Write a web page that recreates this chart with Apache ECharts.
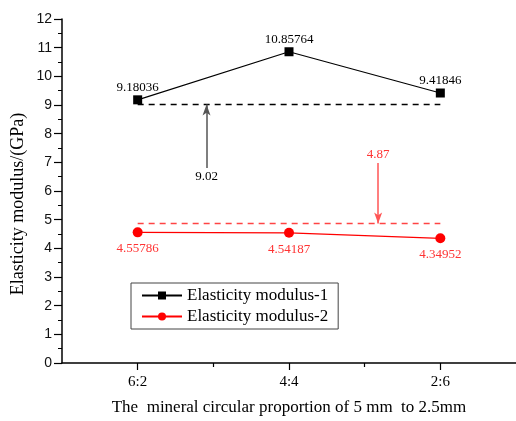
<!DOCTYPE html>
<html>
<head>
<meta charset="utf-8">
<script src="https://cdn.jsdelivr.net/npm/echarts@6/dist/echarts.min.js"></script>
<style>
  html, body { margin: 0; padding: 0; background: #fff; }
  #chart { width: 516px; height: 421px; }
</style>
</head>
<body>
<div id="chart"></div>
<script>
// Mix ratios of 5 mm to 2.5 mm mineral particles, placed at x = 1, 2, 3
const categories = ['6:2', '4:4', '2:6'];
const categoryPositions = [1, 2, 3];

// Elasticity modulus (GPa)
const modulus1 = [9.18036, 10.85764, 9.41846];
const modulus2 = [4.55786, 4.54187, 4.34952];

// Reference levels drawn as dashed lines with pointer arrows
const refLevel1 = 9.02;
const refLevel2 = 4.87;

const yTicks = [0, 1, 2, 3, 4, 5, 6, 7, 8, 9, 10, 11, 12];

const SERIF = '"Liberation Serif", "Times New Roman", serif';
const SANS = '"Liberation Sans", Arial, sans-serif';

const toPoints = vals => vals.map((v, i) => [categoryPositions[i], v]);
const levelLine = v => [[categoryPositions[0], v], [categoryPositions[categoryPositions.length - 1], v]];

const chart = echarts.init(document.getElementById('chart'), null, { renderer: 'canvas' });

chart.setOption({
  animation: false,
  backgroundColor: '#fff',
  grid: { left: 62, top: 19, bottom: 56, right: -8, containLabel: false },
  legend: {
    data: ['Elasticity modulus-1', 'Elasticity modulus-2'],
    orient: 'vertical',
    left: 131,
    top: 283,
    padding: [4, 10, 4, 10],
    itemGap: 4,
    itemWidth: 40,
    itemHeight: 10,
    borderColor: '#444',
    borderWidth: 1,
    borderRadius: 0,
    textStyle: { fontFamily: SERIF, fontSize: 17, color: '#000' }
  },
  xAxis: [
    {
      type: 'value',
      min: 0.5,
      max: 3.5,
      interval: 0.5,
      name: 'The  mineral circular proportion of 5 mm  to 2.5mm',
      nameLocation: 'middle',
      nameGap: 36,
      nameTextStyle: { fontFamily: SERIF, fontSize: 17, color: '#000' },
      axisLine: { show: true, lineStyle: { color: '#000', width: 1.5 } },
      axisTick: { show: true, customValues: categoryPositions, length: 7, lineStyle: { color: '#000', width: 1.2 } },
      axisLabel: {
        customValues: categoryPositions,
        margin: 12,
        fontFamily: SERIF, fontSize: 15, color: '#000',
        formatter: v => {
          const i = categoryPositions.indexOf(v);
          return i >= 0 ? categories[i] : '';
        }
      },
      splitLine: { show: false }
    },
    {
      // minor ticks midway between the ratios
      type: 'value',
      position: 'bottom',
      min: 0.5,
      max: 3.5,
      interval: 0.5,
      axisLine: { show: false },
      axisTick: { show: true, customValues: [1.5, 2.5], length: 4, lineStyle: { color: '#000', width: 1.2 } },
      axisLabel: { show: false },
      splitLine: { show: false }
    }
  ],
  yAxis: {
    type: 'value',
    min: yTicks[0],
    max: yTicks[yTicks.length - 1],
    interval: 1,
    name: 'Elasticity modulus/(GPa)',
    nameLocation: 'middle',
    nameGap: 35,
    nameMoveOverlap: false,
    nameRotate: 90,
    nameTextStyle: { fontFamily: SERIF, fontSize: 18, color: '#000', padding: [0, 26, 0, 0] },
    axisLine: { show: true, lineStyle: { color: '#000', width: 1.5 } },
    axisTick: { show: true, length: 8, lineStyle: { color: '#000', width: 1.2 } },
    minorTick: { show: true, splitNumber: 2, length: 4, lineStyle: { color: '#000', width: 1 } },
    axisLabel: { margin: 10, fontFamily: SANS, fontSize: 14, color: '#111' },
    splitLine: { show: false }
  },
  series: [
    {
      name: 'Elasticity modulus-1',
      type: 'line',
      data: toPoints(modulus1),
      symbol: 'rect',
      symbolSize: 9,
      lineStyle: { color: '#000', width: 1.2 },
      itemStyle: { color: '#000' },
      label: {
        show: true, position: 'top', distance: 1,
        fontFamily: SERIF, fontSize: 13, color: '#000',
        formatter: p => String(p.value[1])
      },
      z: 5
    },
    {
      name: 'Elasticity modulus-2',
      type: 'line',
      data: toPoints(modulus2),
      symbol: 'circle',
      symbolSize: 10,
      lineStyle: { color: '#ff0000', width: 1.2 },
      itemStyle: { color: '#ff0000' },
      label: {
        show: true, position: 'bottom', distance: 5,
        fontFamily: SERIF, fontSize: 13, color: '#ff3333',
        formatter: p => String(p.value[1])
      },
      z: 5
    },
    {
      name: 'level-1',
      type: 'line',
      data: levelLine(refLevel1),
      symbol: 'none',
      silent: true,
      lineStyle: { color: '#000', width: 1.5, type: [6, 5] },
      markLine: {
        silent: true,
        symbol: ['none', 'arrow'],
        symbolSize: [6, 11],
        lineStyle: { color: '#555', width: 1.5, type: 'solid' },
        label: {
          show: true, position: 'start', distance: 2,
          fontFamily: SERIF, fontSize: 13, color: '#000',
          formatter: String(refLevel1)
        },
        data: [[{ coord: [1.455, 6.8] }, { coord: [1.455, refLevel1] }]]
      },
      z: 3
    },
    {
      name: 'level-2',
      type: 'line',
      data: levelLine(refLevel2),
      symbol: 'none',
      silent: true,
      lineStyle: { color: '#ff4444', width: 1.5, type: [6, 5] },
      markLine: {
        silent: true,
        symbol: ['none', 'arrow'],
        symbolSize: [6, 11],
        lineStyle: { color: '#ff5555', width: 1.5, type: 'solid' },
        label: {
          show: true, position: 'start', distance: 2,
          fontFamily: SERIF, fontSize: 13, color: '#ff3333',
          formatter: String(refLevel2)
        },
        data: [[{ coord: [2.589, 6.98] }, { coord: [2.589, refLevel2] }]]
      },
      z: 3
    }
  ]
});
</script>
</body>
</html>
